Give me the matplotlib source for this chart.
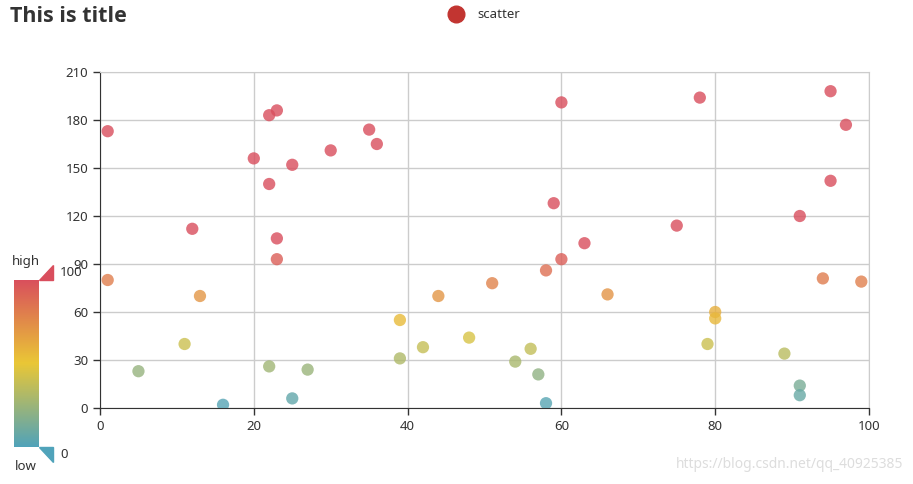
import matplotlib
matplotlib.use("Agg")
import matplotlib.pyplot as plt
import numpy as np
from matplotlib.colors import LinearSegmentedColormap, Normalize
from matplotlib.patches import Polygon

plt.rcParams['font.family'] = ['Noto Sans', 'DejaVu Sans']

x = [1, 12, 20, 22, 23, 22, 25, 30, 35, 36, 23, 23, 60, 78, 95, 97, 95, 91, 59, 75,
     63, 60, 58, 1, 13, 11, 5, 16, 22, 25, 27, 39, 39, 42, 44, 48, 51, 54, 56, 57,
     58, 66, 80, 80, 79, 89, 91, 91, 94, 99]
y = [173, 112, 156, 183, 186, 140, 152, 161, 174, 165, 106, 93, 191, 194, 198, 177, 142, 120, 128, 114,
     103, 93, 86, 80, 70, 40, 23, 2, 26, 6, 24, 55, 31, 38, 70, 44, 78, 29, 37, 21,
     3, 71, 60, 56, 40, 34, 14, 8, 81, 79]
vmin, vmax = 0, 100

cmap = LinearSegmentedColormap.from_list("vm", ['#50a3ba', '#eac736', '#d94e5d'])
norm = Normalize(vmin, vmax, clip=True)

W, H = 913, 484
fig = plt.figure(figsize=(W / 100, H / 100), dpi=100)
ax = fig.add_axes([100 / W, (H - 408) / H, (869 - 100) / W, (408 - 72) / H])

ax.scatter(x, y, c=y, cmap=cmap, norm=norm, s=78, alpha=0.8, linewidths=0, zorder=3)

ax.set_xlim(0, 100)
ax.set_ylim(0, 210)
ax.set_xticks(range(0, 101, 20))
ax.set_yticks(range(0, 211, 30))
ax.grid(True, color='#cccccc', linewidth=1)
ax.set_axisbelow(True)
for s in ['top', 'right']:
    ax.spines[s].set_color('#cccccc')
for s in ['left', 'bottom']:
    ax.spines[s].set_color('#333333')
ax.tick_params(colors='#333333', labelsize=9.5, length=5, width=1)
ax.tick_params(axis='x', pad=4)

# title and legend
fig.text(10 / W, 1 - 17 / H, "This is title", fontsize=15.5, fontweight='bold',
         family=['Open Sans', 'DejaVu Sans'], color='#333333', va='center', ha='left')
fig.lines.append(plt.Line2D([456 / W], [1 - 14 / H], marker='o', markersize=12,
                            color='#c23531', transform=fig.transFigure))
fig.text(477 / W, 1 - 14 / H, "scatter", fontsize=9.5, color='#333333', va='center')

# visual map
cax = fig.add_axes([14 / W, (H - 447) / H, 24 / W, (447 - 280) / H])
grad = np.linspace(1, 0, 256).reshape(-1, 1)
cax.imshow(grad, cmap=cmap, aspect='auto', vmin=0, vmax=1)
cax.set_axis_off()
fig.patches.append(Polygon([[39 / W, 1 - 280 / H], [53 / W, 1 - 280 / H], [53 / W, 1 - 265 / H]],
                           closed=True, color='#d94e5d', transform=fig.transFigure))
fig.patches.append(Polygon([[39 / W, 1 - 447 / H], [53 / W, 1 - 447 / H], [53 / W, 1 - 462 / H]],
                           closed=True, color='#50a3ba', transform=fig.transFigure))
fig.text(60 / W, 1 - 272 / H, str(vmax), fontsize=9.5, color='#333333', va='center')
fig.text(60 / W, 1 - 455 / H, str(vmin), fontsize=9.5, color='#333333', va='center')
fig.text(26 / W, 1 - 261 / H, "high", fontsize=9.5, color='#333333', va='center', ha='center')
fig.text(26 / W, 1 - 467 / H, "low", fontsize=9.5, color='#333333', va='center', ha='center')

fig.text(903 / W, 1 - 465 / H, "https://blog.csdn.net/qq_40925385", fontsize=10,
         color='#dddddd', va='center', ha='right')

fig.savefig("out.png", dpi=100)
